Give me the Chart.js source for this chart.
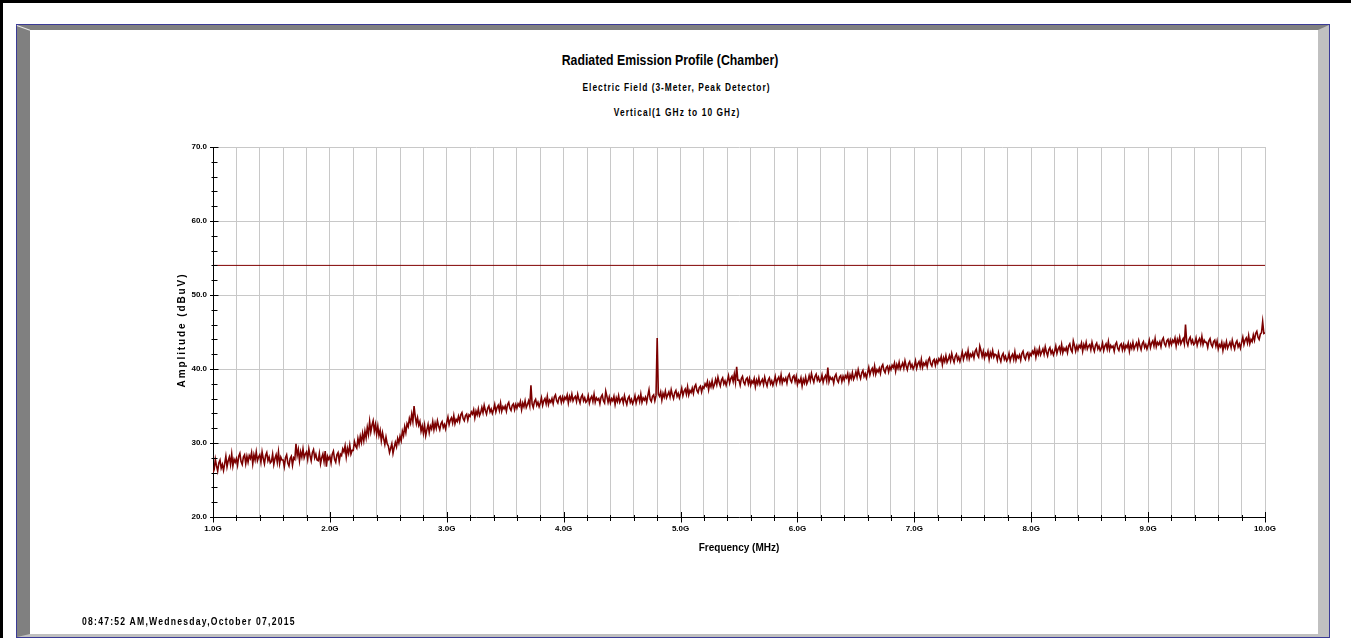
<!DOCTYPE html>
<html>
<head>
<meta charset="utf-8">
<title>Radiated Emission Profile (Chamber)</title>
<script src="https://cdn.jsdelivr.net/npm/chart.js@4.4.1/dist/chart.umd.min.js"></script>
<style>
  html, body { margin: 0; padding: 0; background: #fff; }
  #page { position: relative; width: 1351px; height: 638px; overflow: hidden; background: #fff;
          font-family: "Liberation Sans", Arial, sans-serif; }
  #edge { position: absolute; left: 0; top: 0; width: 1351px; height: 638px; box-sizing: border-box;
          border-left: 3px solid #000; border-top: 3px solid #000; }
  #panel { position: absolute; left: 16px; top: 24px; width: 1314px; height: 614px; box-sizing: border-box;
           border: 1px solid #3b3b96; }
  #bevel { position: absolute; left: 0; top: 0; right: 0; bottom: 0; box-sizing: border-box;
           border-top: 5px solid #808080; border-left: 13px solid #808080;
           border-right: 11px solid #c0c0c0; border-bottom: 3px solid #c0c0c0; background: #fff; }
  #corner { position: absolute; left: 17px; top: 25px; width: 14px; height: 1px; background: #e8e8e8;
            transform-origin: 0 0; transform: rotate(20deg); }
  .hdr { position: absolute; white-space: nowrap; text-align: center; font-weight: bold; color: #000;
         transform: scaleX(0.82); }
  #t1 { left: 0; width: 1340px; top: 51px; font-size: 15px; line-height: 18px; }
  #t2 { left: 0; width: 1353px; top: 82px; font-size: 10.2px; line-height: 12px; letter-spacing: 1.2px; }
  #t3 { left: 0; width: 1354px; top: 107px; font-size: 10.2px; line-height: 12px; letter-spacing: 1.3px; }
  #ytitle { position: absolute; left: 82px; top: 324px; width: 200px; height: 12px; line-height: 12px;
            text-align: center; font-size: 10px; font-weight: bold; letter-spacing: 1.9px; white-space: nowrap;
            transform: rotate(-90deg); transform-origin: 50% 50%; }
  #stamp { position: absolute; left: 82px; top: 615px; font-size: 10.5px; line-height: 13px; font-weight: bold;
           letter-spacing: 1.5px; white-space: nowrap; transform: scaleX(0.82); transform-origin: 0 50%; }
  #chart { position: absolute; left: 0; top: 0; }
</style>
</head>
<body>
<div id="page">
  <div id="edge"></div>
  <div id="panel"><div id="bevel"></div></div>
  <div id="corner"></div>
  <div class="hdr" id="t1">Radiated Emission Profile (Chamber)</div>
  <div class="hdr" id="t2">Electric Field (3-Meter, Peak Detector)</div>
  <div class="hdr" id="t3">Vertical(1 GHz to 10 GHz)</div>
  <canvas id="chart" width="1351" height="638"></canvas>
  <div id="ytitle">Amplitude (dBuV)</div>
  <div id="stamp">08:47:52 AM,Wednesday,October 07,2015</div>
</div>
<script>
// Sweep settings (GHz)
const sweepStart = 1.0;
const sweepStop = 10.0;
const sweepStep = 0.01;

// Peak-detector amplitude (dBuV), one value per 10 MHz step from 1.00 GHz to 10.00 GHz
const peakAmplitude = [
  // 1.0 - 1.9 GHz
  26.0, 26.4, 27.8, 26.9, 26.2, 27.3, 27.7, 26.6, 27.1, 26.3,
  27.2, 28.2, 26.8, 27.6, 28.1, 27.1, 28.5, 26.9, 27.8, 27.4,
  27.9, 27.0, 28.2, 28.6, 27.5, 27.1, 28.1, 28.4, 27.2, 28.2,
  27.4, 28.3, 27.9, 28.7, 27.2, 28.4, 27.7, 28.8, 27.6, 28.1,
  28.4, 27.4, 28.8, 27.9, 27.2, 28.3, 28.7, 27.6, 28.1, 27.3,
  27.5, 28.5, 27.1, 27.9, 28.4, 27.4, 28.8, 27.2, 28.1, 27.7,
  27.7, 26.8, 28.0, 28.4, 27.3, 26.9, 27.9, 28.2, 27.0, 28.0,
  27.8, 29.9, 28.3, 29.1, 27.6, 28.8, 28.1, 29.2, 28.0, 28.5,
  28.8, 27.8, 29.2, 28.3, 27.6, 28.7, 29.1, 28.0, 28.5, 27.7,
  27.6, 28.6, 27.2, 28.0, 28.5, 27.5, 28.9, 26.8, 28.2, 27.8,
  // 2.0 - 2.9 GHz
  28.2, 27.3, 28.5, 28.9, 27.8, 27.4, 28.4, 28.7, 27.5, 28.5,
  28.3, 29.2, 28.8, 29.6, 28.1, 29.3, 28.6, 29.7, 28.5, 29.0,
  29.0, 30.2, 29.6, 29.3, 30.6, 29.8, 30.9, 30.1, 31.3, 30.3,
  31.6, 30.7, 32.1, 31.2, 32.9, 31.5, 32.4, 33.0, 31.6, 32.5,
  31.2, 32.3, 31.0, 31.7, 30.3, 31.4, 30.6, 29.8, 30.8, 29.9,
  29.6, 28.7, 29.3, 29.9, 28.6, 29.4, 30.1, 29.5, 30.6, 30.0,
  30.9, 30.3, 31.6, 31.0, 32.2, 31.4, 32.6, 32.2, 33.3, 32.7,
  33.9, 32.9, 35.0, 33.6, 32.6, 33.4, 32.4, 32.9, 31.6, 32.3,
  31.3, 32.4, 31.0, 31.8, 32.5, 31.4, 32.3, 31.9, 32.9, 31.8,
  32.7, 32.0, 33.0, 32.3, 31.8, 32.6, 32.9, 32.1, 32.5, 31.9,
  // 3.0 - 3.9 GHz
  32.8, 33.5, 32.5, 33.1, 33.4, 32.7, 33.7, 32.6, 33.2, 32.9,
  33.6, 32.9, 33.8, 34.1, 33.3, 33.0, 33.7, 33.9, 33.1, 33.8,
  33.6, 34.2, 33.9, 34.5, 33.4, 34.3, 33.8, 34.6, 33.7, 34.1,
  34.8, 34.1, 35.1, 34.4, 33.9, 34.7, 35.0, 34.2, 34.6, 34.0,
  34.5, 35.2, 34.2, 34.8, 35.1, 34.4, 35.4, 34.3, 34.9, 34.6,
  35.0, 34.3, 35.2, 35.5, 34.7, 34.4, 35.1, 35.3, 34.5, 35.2,
  34.7, 35.3, 35.0, 35.6, 34.5, 35.4, 34.9, 35.7, 34.8, 35.2,
  35.7, 35.0, 37.8, 35.3, 34.8, 35.6, 35.9, 35.1, 35.5, 34.9,
  35.4, 36.1, 35.1, 35.7, 36.0, 35.3, 36.3, 35.2, 35.8, 35.5,
  36.0, 35.3, 36.2, 36.5, 35.7, 35.4, 36.1, 36.3, 35.5, 36.2,
  // 4.0 - 4.9 GHz
  35.6, 36.2, 35.9, 36.5, 35.4, 36.3, 35.8, 36.6, 35.7, 36.1,
  36.3, 35.6, 36.6, 35.9, 35.4, 36.2, 36.5, 35.7, 36.1, 35.5,
  35.7, 36.4, 35.4, 36.0, 36.3, 35.6, 36.6, 35.5, 36.1, 35.8,
  36.0, 35.3, 36.2, 36.5, 35.7, 35.4, 37.0, 36.3, 35.5, 36.2,
  35.4, 36.0, 35.7, 36.3, 35.2, 36.1, 35.6, 36.4, 35.5, 35.9,
  36.1, 35.4, 36.4, 35.7, 35.2, 36.0, 36.3, 35.5, 35.9, 35.3,
  35.7, 36.4, 35.4, 36.0, 36.3, 35.6, 36.6, 35.5, 36.1, 35.8,
  36.2, 35.5, 36.4, 37.2, 35.9, 35.6, 36.3, 36.5, 35.7, 36.4,
  44.2, 36.6, 36.3, 36.9, 35.8, 36.7, 36.2, 37.0, 36.1, 36.5,
  36.9, 36.2, 37.2, 36.5, 36.0, 36.8, 37.1, 36.3, 36.7, 36.1,
  // 5.0 - 5.9 GHz
  36.7, 37.4, 36.4, 37.0, 37.3, 36.6, 37.6, 36.5, 37.1, 36.8,
  37.4, 36.7, 37.6, 37.9, 37.1, 36.8, 37.5, 37.7, 36.9, 37.6,
  37.4, 38.0, 37.7, 38.3, 37.2, 38.1, 37.6, 38.4, 37.5, 37.9,
  38.6, 37.9, 38.9, 38.2, 37.7, 38.5, 38.8, 38.0, 38.4, 37.8,
  38.4, 39.1, 38.1, 38.7, 39.0, 38.3, 39.3, 38.2, 40.3, 38.5,
  38.5, 37.8, 38.7, 39.0, 38.2, 37.9, 38.6, 38.8, 38.0, 38.7,
  37.8, 38.4, 38.1, 38.7, 37.6, 38.5, 38.0, 38.8, 37.9, 38.3,
  38.6, 37.9, 38.9, 38.2, 37.7, 38.5, 38.8, 38.0, 38.4, 37.8,
  38.3, 39.0, 38.0, 38.6, 38.9, 38.2, 39.2, 38.1, 38.7, 38.4,
  38.8, 38.1, 39.0, 39.3, 38.5, 38.2, 38.9, 39.1, 38.3, 39.0,
  // 6.0 - 6.9 GHz
  37.9, 38.5, 38.2, 38.8, 37.7, 38.6, 38.1, 38.9, 38.0, 38.4,
  39.1, 38.4, 39.4, 38.7, 38.2, 39.0, 39.3, 38.5, 38.9, 38.3,
  38.5, 39.2, 38.2, 38.8, 39.1, 38.4, 40.2, 38.3, 38.9, 38.6,
  38.8, 38.1, 39.0, 39.3, 38.5, 38.2, 38.9, 39.1, 38.3, 39.0,
  38.5, 39.1, 38.8, 39.4, 38.3, 39.2, 38.7, 39.5, 38.6, 39.0,
  39.6, 38.9, 39.9, 39.2, 38.7, 39.5, 39.8, 39.0, 39.4, 38.8,
  39.5, 40.2, 39.2, 39.8, 40.1, 39.4, 40.4, 39.3, 39.9, 39.6,
  40.1, 39.4, 40.3, 40.6, 39.8, 39.5, 40.2, 40.4, 39.6, 40.3,
  39.9, 40.5, 40.2, 40.8, 39.7, 40.6, 40.1, 40.9, 40.0, 40.4,
  40.8, 40.1, 41.1, 40.4, 39.9, 40.7, 41.0, 40.2, 40.6, 40.0,
  // 7.0 - 7.9 GHz
  40.4, 41.1, 40.1, 40.7, 41.0, 40.3, 41.3, 40.2, 40.8, 40.5,
  41.0, 40.3, 41.2, 41.5, 40.7, 40.4, 41.1, 41.3, 40.5, 41.2,
  40.8, 41.4, 41.1, 41.7, 40.6, 41.5, 41.0, 41.8, 40.9, 41.3,
  41.8, 41.1, 42.1, 41.4, 40.9, 41.7, 42.0, 41.2, 41.6, 41.0,
  41.6, 42.3, 41.3, 41.9, 42.2, 41.5, 42.5, 41.4, 42.0, 41.7,
  42.2, 41.5, 42.4, 42.7, 41.9, 41.6, 43.1, 42.5, 41.7, 42.4,
  41.5, 42.1, 41.8, 42.4, 41.3, 42.2, 41.7, 42.5, 41.6, 42.0,
  41.9, 41.2, 42.2, 41.5, 41.0, 41.8, 42.1, 41.3, 41.7, 41.1,
  41.4, 42.1, 41.1, 41.7, 42.0, 41.3, 42.3, 41.2, 41.8, 41.5,
  41.9, 41.2, 42.1, 42.4, 41.6, 41.3, 42.0, 42.2, 41.4, 42.1,
  // 8.0 - 8.9 GHz
  41.8, 42.4, 42.1, 42.7, 41.6, 42.5, 42.0, 42.8, 41.9, 42.3,
  42.7, 42.0, 43.0, 42.3, 41.8, 42.6, 42.9, 42.1, 42.5, 41.9,
  42.4, 43.1, 42.1, 42.7, 43.0, 42.3, 43.3, 42.2, 42.8, 42.5,
  42.9, 42.2, 43.1, 43.4, 42.6, 42.3, 43.8, 43.2, 42.4, 43.1,
  42.6, 43.2, 42.9, 43.5, 42.4, 43.3, 42.8, 43.6, 42.7, 43.1,
  43.3, 42.6, 43.6, 42.9, 42.4, 43.2, 43.5, 42.7, 43.1, 42.5,
  42.8, 43.5, 42.5, 43.1, 43.4, 42.7, 43.7, 42.6, 43.2, 42.9,
  43.1, 42.4, 43.3, 43.6, 42.8, 42.5, 43.2, 43.4, 42.6, 43.3,
  42.6, 43.2, 42.9, 43.5, 42.4, 43.3, 42.8, 43.6, 42.7, 43.1,
  43.5, 42.8, 43.8, 43.1, 42.6, 43.4, 43.7, 42.9, 43.3, 42.7,
  // 9.0 - 10.0 GHz
  43.2, 43.9, 42.9, 43.5, 43.8, 43.1, 44.1, 43.0, 43.6, 43.3,
  43.7, 43.0, 43.9, 44.2, 43.4, 43.1, 43.8, 44.0, 43.2, 43.9,
  43.3, 43.9, 43.6, 44.2, 43.1, 44.0, 43.5, 44.3, 43.4, 43.8,
  44.1, 43.4, 46.0, 43.7, 43.2, 44.0, 44.3, 43.5, 43.9, 43.3,
  43.5, 44.2, 43.2, 43.8, 44.1, 43.4, 44.4, 43.3, 43.9, 43.6,
  43.6, 42.9, 43.8, 44.1, 43.3, 43.0, 43.7, 43.9, 43.1, 43.8,
  42.7, 43.3, 43.0, 43.6, 42.5, 43.4, 42.9, 43.7, 42.8, 43.2,
  43.6, 42.9, 43.9, 43.2, 42.7, 43.5, 43.8, 43.0, 43.4, 42.8,
  43.6, 44.3, 43.3, 43.9, 44.2, 43.5, 44.5, 43.4, 44.0, 43.7,
  44.6, 43.9, 44.8, 45.1, 44.3, 44.0, 44.7, 44.9, 46.4, 44.8,
  44.9
];

// Limit line (dBuV)
const limitLevel = 54.0;

// Axis tick values and labels
const xMajorTicks = [1, 2, 3, 4, 5, 6, 7, 8, 9, 10];
const xTickLabels = ['1.0G', '2.0G', '3.0G', '4.0G', '5.0G', '6.0G', '7.0G', '8.0G', '9.0G', '10.0G'];
const xMinorStep = 0.2;
const yMajorTicks = [20, 30, 40, 50, 60, 70];
const yTickLabels = ['20.0', '30.0', '40.0', '50.0', '60.0', '70.0'];
const yMinorStep = 2;

const FONT = '"Liberation Sans", Arial, sans-serif';
const TRACE = '#7b0000';

const tracePoints = peakAmplitude.map((v, i) => ({
  x: Math.round((sweepStart + i * sweepStep) * 100) / 100,
  y: v
}));
const limitPoints = [{ x: sweepStart, y: limitLevel }, { x: sweepStop, y: limitLevel }];

function gridValues(lo, hi, step) {
  const out = [];
  const n = Math.round((hi - lo) / step);
  for (let i = 0; i <= n; i++) out.push(Math.round((lo + i * step) * 1000) / 1000);
  return out;
}
const xGridValues = gridValues(xMajorTicks[0], xMajorTicks[xMajorTicks.length - 1], xMinorStep);
const yMinorValues = gridValues(yMajorTicks[0], yMajorTicks[yMajorTicks.length - 1], yMinorStep);

// Tick marks that cross the axis lines, long at labelled values, short in between
const crossTicks = {
  id: 'crossTicks',
  afterDatasetsDraw(chart) {
    const { ctx, scales: { x, y } } = chart;
    const axY = Math.round(y.getPixelForValue(yMajorTicks[0])) + 0.5;
    const axX = Math.round(x.getPixelForValue(xMajorTicks[0])) + 0.5;
    ctx.save();
    ctx.strokeStyle = '#000';
    ctx.lineWidth = 1;
    ctx.beginPath();
    yMinorValues.forEach(v => {
      const py = Math.round(y.getPixelForValue(v)) + 0.5;
      const major = yMajorTicks.includes(v);
      ctx.moveTo(axX - (major ? 3.5 : 2), py);
      ctx.lineTo(axX + (major ? 5 : 4), py);
    });
    xGridValues.forEach(v => {
      const px = Math.round(x.getPixelForValue(v)) + 0.5;
      const major = xMajorTicks.includes(v);
      ctx.moveTo(px, axY - (major ? 5.5 : 2.5));
      ctx.lineTo(px, axY + (major ? 5 : 3.5));
    });
    ctx.stroke();
    ctx.restore();
  }
};

new Chart(document.getElementById('chart'), {
  type: 'line',
  data: {
    datasets: [
      {
        label: 'Limit',
        data: limitPoints,
        borderColor: '#800000',
        borderWidth: 1,
        pointRadius: 0
      },
      {
        label: 'Peak',
        data: tracePoints,
        borderColor: TRACE,
        borderWidth: 1.6,
        pointRadius: 0,
        tension: 0
      }
    ]
  },
  options: {
    responsive: false,
    animation: false,
    devicePixelRatio: 1,
    events: [],
    layout: { padding: { top: 147, right: 86, bottom: 0, left: 0 } },
    plugins: {
      legend: { display: false },
      tooltip: { enabled: false },
      title: { display: false }
    },
    scales: {
      x: {
        type: 'linear',
        min: xMajorTicks[0],
        max: xMajorTicks[xMajorTicks.length - 1],
        afterFit(s) { s.height = 121; },
        afterBuildTicks(s) { s.ticks = xGridValues.map(v => ({ value: v })); },
        ticks: {
          autoSkip: false,
          maxRotation: 0,
          padding: 7,
          color: '#000',
          font: { family: FONT, size: 8, weight: 'bold' },
          callback(v) {
            const k = xMajorTicks.indexOf(Math.round(v * 1000) / 1000);
            return k >= 0 ? xTickLabels[k] : '';
          }
        },
        grid: { color: '#c8c8c8', lineWidth: 1, drawTicks: false },
        border: { display: true, color: '#000', width: 1 },
        title: {
          display: true,
          text: 'Frequency (MHz)',
          color: '#000',
          font: { family: FONT, size: 10, weight: 'bold' },
          padding: { top: 0, bottom: 84 }
        }
      },
      y: {
        min: yMajorTicks[0],
        max: yMajorTicks[yMajorTicks.length - 1],
        afterFit(s) { s.width = 213; },
        afterBuildTicks(s) { s.ticks = yMajorTicks.map(v => ({ value: v })); },
        ticks: {
          padding: 6,
          color: '#000',
          font: { family: FONT, size: 8, weight: 'bold' },
          callback(v) {
            const k = yMajorTicks.indexOf(v);
            return k >= 0 ? yTickLabels[k] : '';
          }
        },
        grid: { color: '#c8c8c8', lineWidth: 1, drawTicks: false },
        border: { display: true, color: '#000', width: 1 },
        title: { display: false }
      }
    }
  },
  plugins: [crossTicks]
});
</script>
</body>
</html>
